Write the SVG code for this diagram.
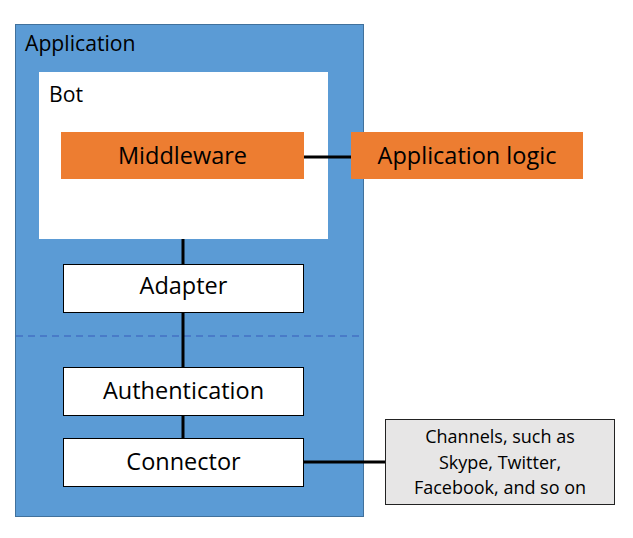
<svg xmlns="http://www.w3.org/2000/svg" width="633" height="538" viewBox="0 0 633 538">
<style>
text{font-family:"Open Sans","Liberation Sans",sans-serif;fill:#000}
.big{font-size:23.5px}
.lbl{font-size:21.2px}
.wbox{fill:#fff;stroke:#000;stroke-width:1}
.orange{fill:#ed7d31}
.conn{stroke:#000;stroke-width:3;fill:none}
.small{font-size:18px}
</style>
<rect width="633" height="538" fill="#fff"/>
<g id="application">
<rect x="15.5" y="24.5" width="348" height="492" fill="#5b9bd5" stroke="#41719c" stroke-width="1"/>
<text class="lbl" x="25" y="51">Application</text>
<line x1="16" y1="336" x2="363" y2="336" stroke="#4472c4" stroke-width="1.3" stroke-dasharray="7,5"/>
</g>
<g id="bot">
<rect x="39" y="72" width="289" height="167" fill="#fff"/>
<text class="lbl" x="49" y="102">Bot</text>
</g>
<g id="connectors">
<line class="conn" x1="304" y1="157" x2="351" y2="157"/>
<line class="conn" x1="183" y1="239" x2="183" y2="264"/>
<line class="conn" x1="183" y1="312" x2="183" y2="367"/>
<line class="conn" x1="183" y1="415" x2="183" y2="438"/>
<line class="conn" x1="303" y1="462" x2="385" y2="462"/>
</g>
<g id="middleware">
<rect class="orange" x="61" y="132" width="243" height="47"/>
<text class="big" x="182.5" y="164" text-anchor="middle">Middleware</text>
</g>
<g id="applogic">
<rect class="orange" x="351" y="132" width="232" height="47"/>
<text class="big" x="467" y="164" text-anchor="middle">Application logic</text>
</g>
<g id="adapter">
<rect class="wbox" x="63.5" y="264.5" width="240" height="48"/>
<text class="big" x="183.5" y="294" text-anchor="middle">Adapter</text>
</g>
<g id="authentication">
<rect class="wbox" x="63.5" y="367.5" width="240" height="48"/>
<text class="big" x="183.5" y="399" text-anchor="middle">Authentication</text>
</g>
<g id="connector">
<rect class="wbox" x="63.5" y="438.5" width="240" height="48"/>
<text class="big" x="183.5" y="470" text-anchor="middle">Connector</text>
</g>
<g id="channels">
<rect x="385.5" y="419.5" width="229" height="85" fill="#e7e6e6" stroke="#222" stroke-width="1"/>
<text class="small" x="500" y="443" text-anchor="middle">Channels, such as</text>
<text class="small" x="500" y="469" text-anchor="middle">Skype, Twitter,</text>
<text class="small" x="500" y="494" text-anchor="middle">Facebook, and so on</text>
</g>
</svg>
